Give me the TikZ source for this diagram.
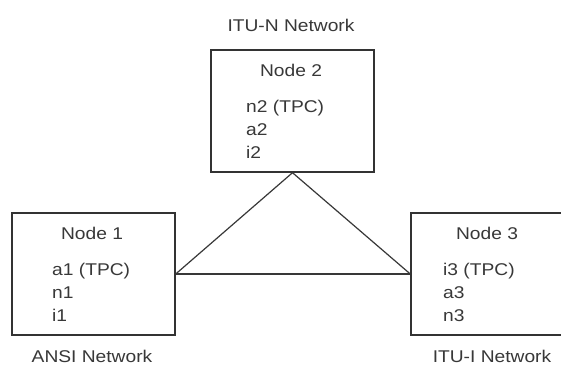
\documentclass[tikz,border=0pt]{standalone}
\usepackage{fontspec}
\setmainfont{Liberation Sans}[FakeStretch=1.13]
\begin{document}
\begin{tikzpicture}[x=1pt,y=-1pt,
  netbox/.style={draw=black!80,line width=1.4pt,rectangle,inner sep=0pt,minimum width=163pt,minimum height=122pt},
  lbl/.style={font=\fontsize{17}{23}\selectfont,text=black!78,inner sep=0pt},
  item/.style={lbl,anchor=base west},
  link/.style={draw=black!78,line width=1.2pt}]
\useasboundingbox (0,0) rectangle (561,367);
\fill[white] (0,0) rectangle (561,367);
% boxes
\node[netbox] (b2) at (292.5,111) {};
\node[netbox] (b1) at (93.5,274) {};
\node[netbox] (b3) at (492.5,274) {};
% network titles
\node[lbl,anchor=base] (t2) at (291,31) {ITU-N Network};
\node[lbl,anchor=base] (t1) at (92,362) {ANSI Network};
\node[lbl,anchor=base] (t3) at (492,362) {ITU-I Network};
% node headers
\node[lbl,anchor=base] (h2) at (291,76) {Node 2};
\node[lbl,anchor=base] (h1) at (92,239) {Node 1};
\node[lbl,anchor=base] (h3) at (487,239) {Node 3};
% item lists
\node[item] (l2a) at (246,112) {n2 (TPC)};
\node[item] (l2b) at (246,135) {a2};
\node[item] (l2c) at (246,158) {i2};
\node[item] (l1a) at (52,275) {a1 (TPC)};
\node[item] (l1b) at (52,298) {n1};
\node[item] (l1c) at (52,321) {i1};
\node[item] (l3a) at (443,275) {i3 (TPC)};
\node[item] (l3b) at (443,298) {a3};
\node[item] (l3c) at (443,321) {n3};
% connectors
\draw[link] (b2.south) -- (b1.east);
\draw[link] (b2.south) -- (b3.west);
\draw[link] (b1.east) -- (b3.west);
\end{tikzpicture}
\end{document}
